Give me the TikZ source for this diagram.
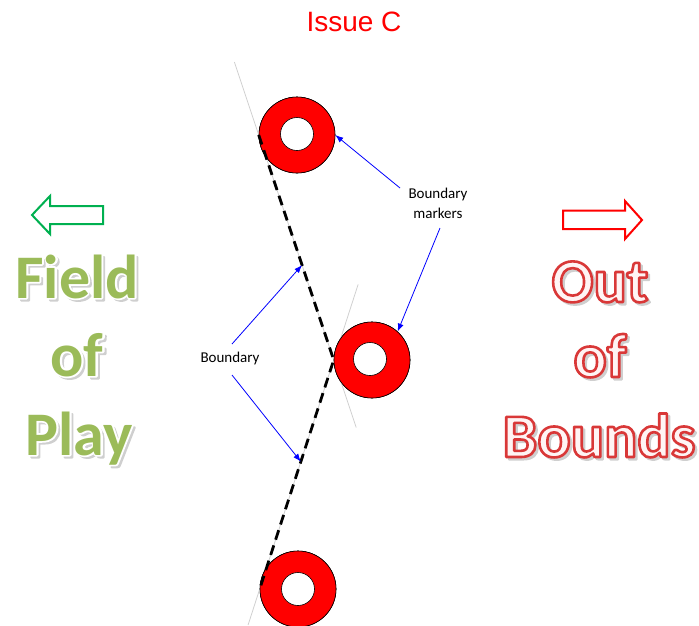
\documentclass[tikz,border=0pt]{standalone}
\usepackage{fontspec}
\usetikzlibrary{calc,arrows.meta}
\newfontfamily\calibri{Carlito}
\newfontfamily\arialf{Liberation Sans}
\definecolor{fieldgreen}{HTML}{9BBB59}
\definecolor{arrowgreen}{HTML}{00B050}
\definecolor{oobfill}{HTML}{FFF4F4}
\definecolor{guidegray}{HTML}{D0D0D0}
\definecolor{shadowgray}{HTML}{CFCFCF}

\tikzset{
  marker/.style={circle,draw=black,line width=0.6pt,fill=red,minimum size=76pt,inner sep=0pt},
  hole/.style={circle,draw=black,line width=0.6pt,fill=white,minimum size=33pt,inner sep=0pt},
  guide/.style={draw=guidegray,line width=0.8pt},
  boundaryline/.style={draw=black,line width=2.8pt,dash pattern=on 10pt off 6pt},
  pointer/.style={draw=blue,line width=0.8pt,-{Latex[length=8pt,width=6pt]}},
  smalllabel/.style={font=\calibri\fontsize{15}{20}\selectfont,align=center,inner sep=0pt},
  bigword/.style={font=\calibri\bfseries\fontsize{62}{62}\selectfont,inner sep=0pt,anchor=base},
  hollowarrow/.style={line width=2pt,fill=white,line join=miter},
}
% a word filled in one colour and outlined in another (rgb stroke, width in bp)
\newcommand{\outlined}[4]{{\color{#1}\special{pdf:literal direct #2 RG #3 w 1 j 2 Tr}#4\special{pdf:literal direct 0 Tr}}}
% light drop shadow behind a word
\newcommand{\dropshadow}[1]{\rlap{\hspace{2.5pt}\raisebox{-2.5pt}{\outlined{shadowgray}{0.81 0.81 0.81}{2}{#1}}}}
% green lettering with a white rim
\newcommand{\fieldword}[1]{\dropshadow{#1}\rlap{\outlined{white}{1 1 1}{3.4}{#1}}{\color{fieldgreen}#1}}
% pale lettering with a red outline
\newcommand{\oobword}[1]{\dropshadow{#1}\outlined{oobfill}{0.85 0.22 0.22}{2.6}{#1}}

\begin{document}
\begin{tikzpicture}[x=1pt,y=-1pt]
\useasboundingbox (0,0) rectangle (699,625);

% title
\node[font=\arialf\fontsize{28}{28}\selectfont,text=red,inner sep=0pt] (title) at (354,22) {Issue C};

% boundary markers
\coordinate (c1) at (297,135);
\coordinate (c2) at (372,360);
\coordinate (c3) at (298,589);
\path (c1) node[marker] (m1) {} (c2) node[marker] (m2) {} (c3) node[marker] (m3) {};

% faint tangent guides
\draw[guide] ($(m1.west)!-0.324!(m2.west)$) -- ($(m1.west)!1.30!(m2.west)$);
\draw[guide] ($(m2.west)!-0.33!(m3.west)$) -- ($(m2.west)!1.157!(m3.west)$);

% markers drawn again over the guides, with their holes
\node[marker] at (m1) {};
\node[marker] at (m2) {};
\node[marker] at (m3) {};
\node[hole] (h1) at (297,134) {};
\node[hole] (h2) at (370,359) {};
\node[hole] (h3) at (298,589) {};

% the boundary itself
\draw[boundaryline] (m1.west) -- (m2.west) -- (m3.west);

% labels and pointers
\node[smalllabel] (lblmarkers) at (438,203) {Boundary\\markers};
\coordinate (pm1) at (400,188);
\coordinate (pm2) at (440,228);
\draw[pointer] (pm1) -- (m1.east);
\draw[pointer] (pm2) -- (m2.48);

\node[smalllabel] (lblboundary) at (230,358) {Boundary};
\coordinate (pb1) at (232,344);
\coordinate (pb2) at (232,375);
\draw[pointer] (pb1) -- ($(m1.west)!0.578!(m2.west)$);
\draw[pointer] (pb2) -- ($(m2.west)!0.444!(m3.west)$);

% direction arrows
\draw[hollowarrow,draw=arrowgreen] (32,215) -- (50,196) -- (50,206) -- (103,206) -- (103,224) -- (50,224) -- (50,234) -- cycle;
\draw[hollowarrow,draw=red] (642,220) -- (625,201) -- (625,210.5) -- (563,210.5) -- (563,229) -- (625,229) -- (625,239) -- cycle;

% Field of Play
\node[bigword] (f1) at (77,298) {\fieldword{Field}};
\node[bigword] (f2) at (77,376) {\fieldword{of}};
\node[bigword] (f3) at (79,455) {\fieldword{Play}};

% Out of Bounds
\node[bigword] (o1) at (600,302) {\oobword{Out}};
\node[bigword] (o2) at (600,377) {\oobword{of}};
\node[bigword] (o3) at (599,457) {\oobword{Bounds}};
\end{tikzpicture}
\end{document}
